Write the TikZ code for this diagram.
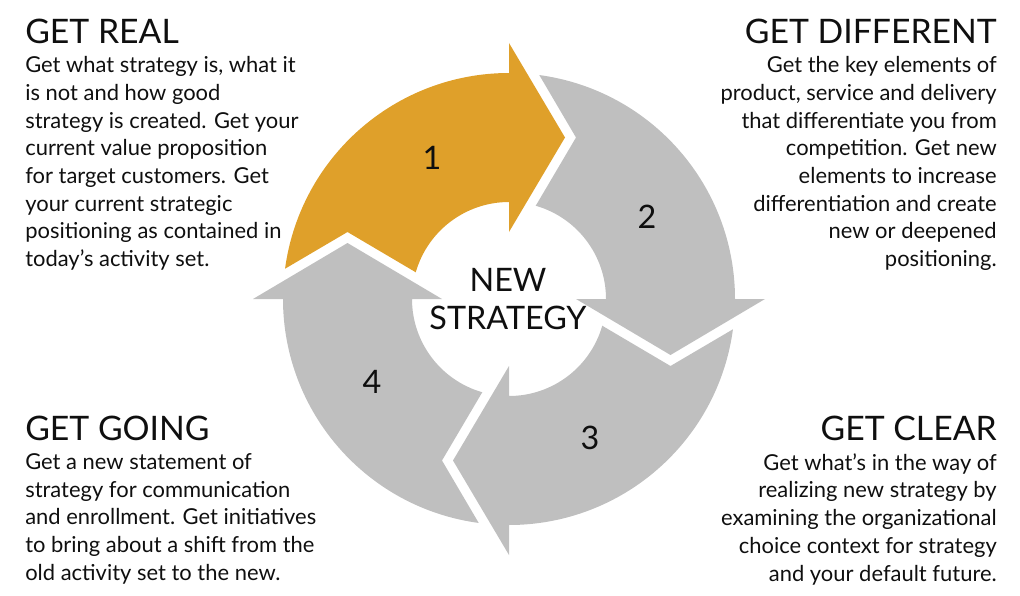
\documentclass[tikz,border=0pt]{standalone}
\usepackage{fontspec}
\setmainfont{Lato}
\usepackage{xcolor}
\usepackage{tikz}
\usetikzlibrary{positioning}
\definecolor{gold}{RGB}{223, 160, 42}
\definecolor{silver}{RGB}{191, 191, 191}
\definecolor{ink}{RGB}{15, 15, 15}

\begin{document}
\begin{tikzpicture}[x=0.025cm, y=0.025cm,
        heading/.style={inner sep=0, text=ink, font=\fontsize{24}{28}\selectfont},
        blurb/.style={inner sep=0, text=ink, align=#1, font=\fontsize{15.6}{19.7}\selectfont},
        step number/.style={inner sep=0, text=ink, font=\fontsize{23}{27}\selectfont}
    ]
        \useasboundingbox (0,0) rectangle (1020,595);

        % the four curved arrows round the hub
        \begin{scope}[shift={(509,296)}]
            \foreach \k/\col in {0/gold, 1/silver, 2/silver, 3/silver}
                \fill[\col, rotate=-90*\k] (172.3:226) arc[start angle=172.3, end angle=90, radius=226]
                    -- (0,256) -- (56,161.5) -- (0,67) -- (0,97)
                    arc[start angle=90, end angle=164, radius=97] -- (-161.5,67) -- cycle;
        \end{scope}

        \node (one) [step number] at (432,437) {1};
        \node (two) [step number] at (647,378) {2};
        \node (three) [step number] at (590,157) {3};
        \node (four) [step number] at (372,213) {4};

        \node (hub) [step number, align=center] at (508,296) {NEW\\STRATEGY};

        % corner texts
        \node (real) [heading, anchor=base west] at (25,552) {GET REAL};
        \node (realtext) [blurb=left, below right=9pt and 0pt of real.south west] {
            Get what strategy is, what it\\
            is not and how good\\
            strategy is created. Get your\\
            current value proposition\\
            for target customers. Get\\
            your current strategic\\
            positioning as contained in\\
            today’s activity set.
        };

        \node (different) [heading, anchor=base east] at (997,552) {GET DIFFERENT};
        \node (differenttext) [blurb=right, below left=9pt and 0pt of different.south east] {
            Get the key elements of\\
            product, service and delivery\\
            that differentiate you from\\
            competition. Get new\\
            elements to increase\\
            differentiation and create\\
            new or deepened\\
            positioning.
        };

        \node (going) [heading, anchor=base west] at (25,155) {GET GOING};
        \node (goingtext) [blurb=left, below right=9pt and 0pt of going.south west] {
            Get a new statement of\\
            strategy for communication\\
            and enrollment. Get initiatives\\
            to bring about a shift from the\\
            old activity set to the new.
        };

        \node (clear) [heading, anchor=base east] at (997,155) {GET CLEAR};
        \node (cleartext) [blurb=right, below left=9pt and 0pt of clear.south east] {
            Get what’s in the way of\\
            realizing new strategy by\\
            examining the organizational\\
            choice context for strategy\\
            and your default future.
        };
    \end{tikzpicture}
\end{document}
